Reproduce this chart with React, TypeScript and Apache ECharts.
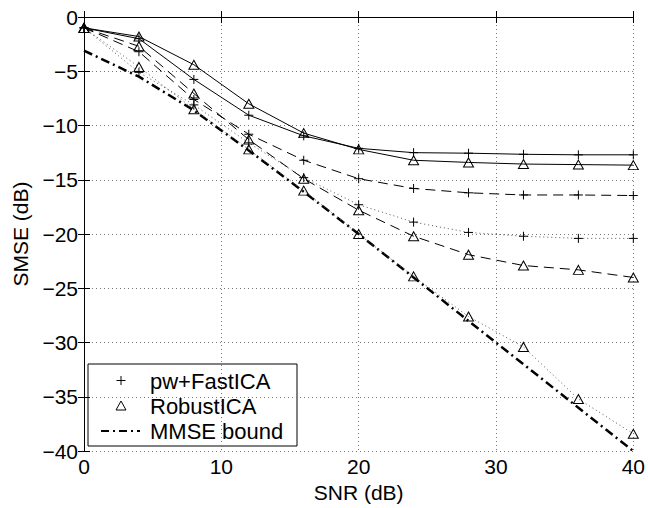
import React, { useEffect, useRef } from "react";
import * as echarts from "echarts";

const snr = [0, 4, 8, 12, 16, 20, 24, 28, 32, 36, 40];
const pwSolid = [-1.0, -2.0, -5.75, -9.05, -10.95, -12.1, -12.5, -12.55, -12.65, -12.7, -12.7];
const pwDashed = [-1.0, -3.2, -7.6, -10.8, -13.2, -14.9, -15.8, -16.2, -16.4, -16.4, -16.45];
const pwDotted = [-1.0, -5.1, -8.1, -11.6, -14.8, -17.3, -18.9, -19.85, -20.2, -20.4, -20.4];
const robSolid = [-1.0, -1.8, -4.4, -8.0, -10.7, -12.2, -13.2, -13.4, -13.55, -13.6, -13.65];
const robDashed = [-1.0, -2.7, -7.05, -11.3, -14.9, -17.8, -20.2, -21.9, -22.9, -23.3, -24.0];
const robDotted = [-1.0, -4.6, -8.5, -12.2, -16.0, -20.0, -23.9, -27.6, -30.4, -35.2, -38.4];
const mmse = [-3.1, -5.5, -8.6, -12.3, -16.1, -20.0, -24.0, -28.0, -32.0, -36.0, -40.0];

const legendNames = ["pw+FastICA", "RobustICA", "MMSE bound"];
const xTitle = "SNR (dB)";
const yTitle = "SMSE (dB)";

const FONT = '"Liberation Sans", Arial, Helvetica, sans-serif';
const PLUS = "path://M5,0L5,10M0,5L10,5";
const TRI = "path://M5,0L10,9L0,9Z";

const pair = (ys: number[]) => snr.map((x, i) => [x, ys[i]]);

export default function App() {
  const ref = useRef<HTMLDivElement>(null);
  useEffect(() => {
    const chart = echarts.init(ref.current!, null, { renderer: "svg" });
    const fmt = (v: number) => (v < 0 ? "\u2212" + Math.abs(v) : String(v));
    const mk = (ys: number[], sym: string, type: any, color = "#000", width = 1) => ({
      type: "line",
      data: pair(ys),
      symbol: sym,
      symbolSize: sym === TRI ? [10, 9] : 9,
      showSymbol: sym !== "none",
      lineStyle: { color, width, type },
      itemStyle: { color: "transparent", borderColor: "#000", borderWidth: 1 },
      emphasis: { disabled: true },
      z: 3,
    });
    const axisCommon = {
      type: "value" as const,
      axisLine: { show: true, lineStyle: { color: "#000", width: 1 } },
      axisTick: { show: true, inside: true, length: 6, lineStyle: { color: "#000" } },
    };
    const lx = 88, ly = 364;
    chart.setOption({
      animation: false,
      backgroundColor: "#fff",
      textStyle: { fontFamily: FONT },
      grid: { left: 84, right: 14, top: 17, bottom: 56, containLabel: false },
      xAxis: [
        {
          ...axisCommon,
          min: 0,
          max: 40,
          interval: 10,
          position: "bottom",
          axisLabel: { color: "#000", fontSize: 21, fontFamily: FONT, margin: 5 },
          splitLine: { show: true, lineStyle: { color: "#777", type: [1, 3], width: 1 } },
          name: xTitle,
          nameLocation: "middle",
          nameGap: 27,
          nameTextStyle: { color: "#000", fontSize: 21, fontFamily: FONT },
        },
        {
          ...axisCommon,
          min: 0,
          max: 40,
          interval: 10,
          position: "top",
          axisLabel: { show: false },
          splitLine: { show: false },
        },
      ],
      yAxis: [
        {
          ...axisCommon,
          min: -40,
          max: 0,
          interval: 5,
          position: "left",
          axisLabel: { color: "#000", fontSize: 21, fontFamily: FONT, margin: 6, formatter: fmt },
          splitLine: { show: true, lineStyle: { color: "#777", type: [1, 3], width: 1 } },
          name: yTitle,
          nameLocation: "middle",
          nameGap: 47,
          nameTextStyle: { color: "#000", fontSize: 21, fontFamily: FONT },
        },
        {
          ...axisCommon,
          min: -40,
          max: 0,
          interval: 5,
          position: "right",
          axisLabel: { show: false },
          splitLine: { show: false },
        },
      ],
      series: [
        mk(mmse, "none", [9, 4, 2, 4], "#000", 2.5),
        mk(robDotted, TRI, [1, 3], "#555", 1),
        mk(pwDotted, PLUS, [1, 3], "#555", 1),
        mk(robDashed, TRI, [10, 6]),
        mk(pwDashed, PLUS, [10, 6]),
        mk(robSolid, TRI, "solid"),
        mk(pwSolid, PLUS, "solid"),
      ],
      graphic: [
        {
          type: "group",
          z: 100,
          children: [
            { type: "rect", shape: { x: lx, y: ly, width: 209, height: 82 }, style: { fill: "#fff", stroke: "#000", lineWidth: 1 } },
            { type: "line", shape: { x1: 121, y1: 376, x2: 121, y2: 385 }, style: { stroke: "#000", lineWidth: 1 } },
            { type: "line", shape: { x1: 116.5, y1: 380.5, x2: 125.5, y2: 380.5 }, style: { stroke: "#000", lineWidth: 1 } },
            { type: "polygon", shape: { points: [[121, 401], [126, 410], [116, 410]] }, style: { fill: "none", stroke: "#000", lineWidth: 1 } },
            { type: "line", shape: { x1: 101, y1: 431, x2: 140, y2: 431 }, style: { stroke: "#000", lineWidth: 2, lineDash: [8, 4, 2, 4] } },
            { type: "text", x: 150, y: 381, style: { text: legendNames[0], fill: "#000", font: `22px ${FONT}`, verticalAlign: "middle" } },
            { type: "text", x: 150, y: 406, style: { text: legendNames[1], fill: "#000", font: `22px ${FONT}`, verticalAlign: "middle" } },
            { type: "text", x: 150, y: 431, style: { text: legendNames[2], fill: "#000", font: `22px ${FONT}`, verticalAlign: "middle" } },
          ],
        },
      ],
    });
    return () => chart.dispose();
  }, []);
  return <div ref={ref} style={{ position: "absolute", left: 0, top: 0, width: 648, height: 508 }} />;
}
